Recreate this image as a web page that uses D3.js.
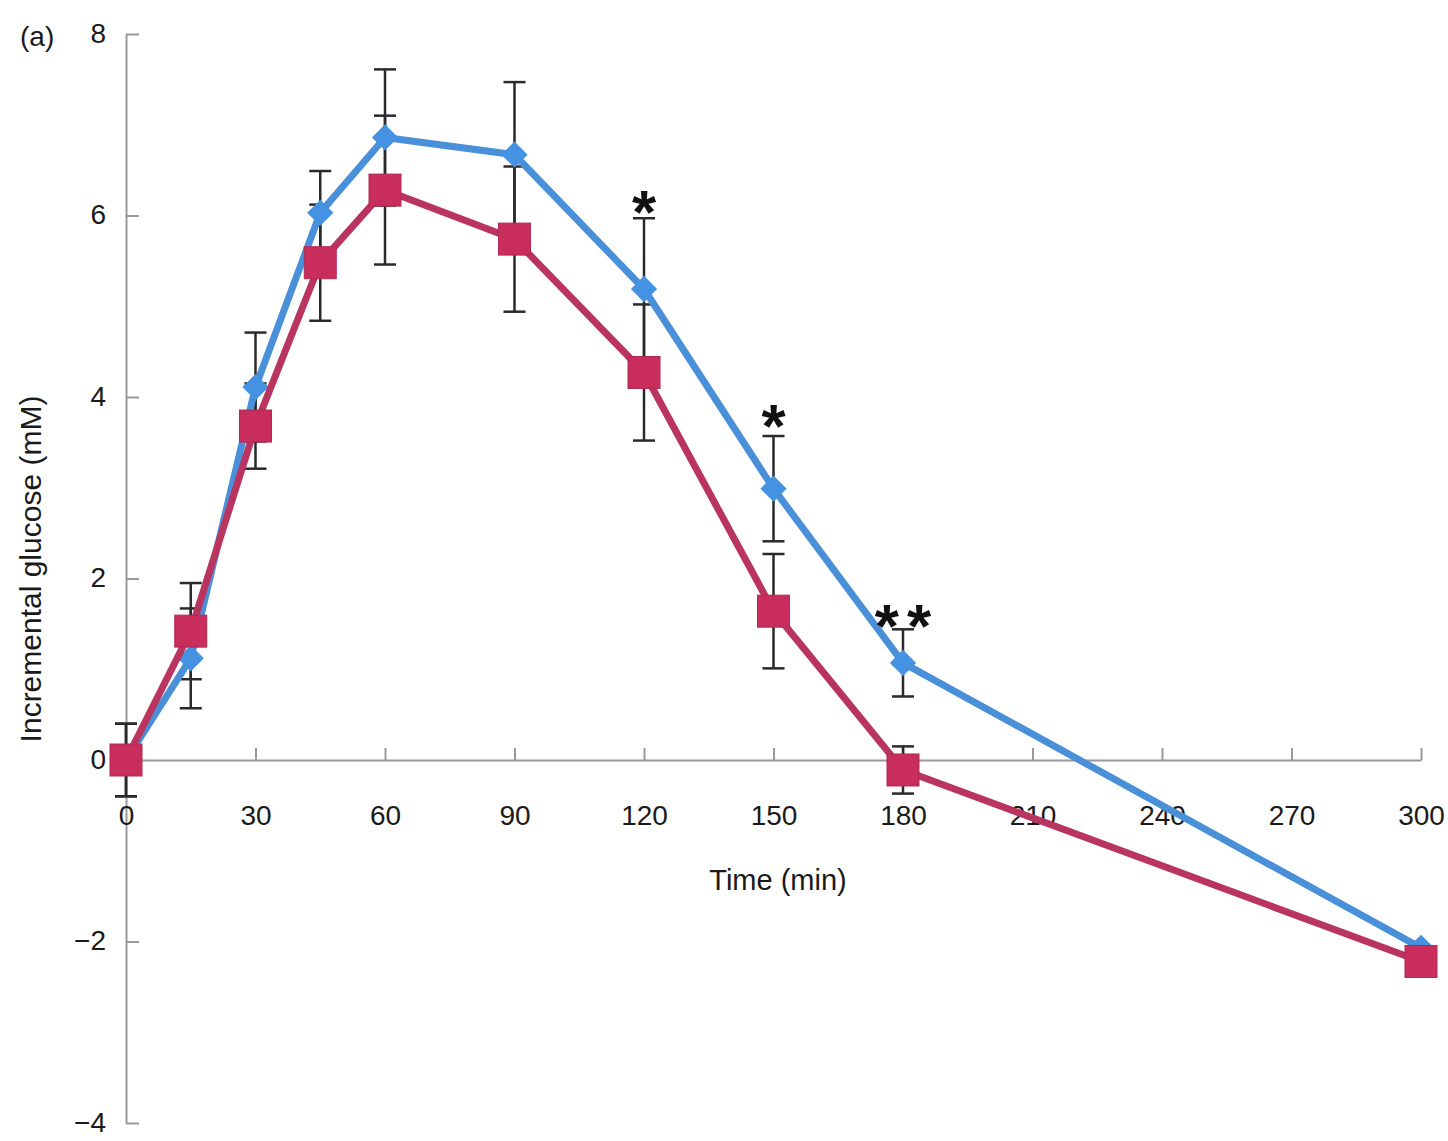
<!DOCTYPE html>
<html>
<head>
<meta charset="utf-8">
<script src="https://cdn.jsdelivr.net/npm/d3@7"></script>
<style>
  body { margin: 0; background: #fff; }
  text { font-family: "Liberation Sans", Arial, sans-serif; }
</style>
</head>
<body>
<div id="chart"></div>
<script>
// time points (min)
var times = [0, 15, 30, 45, 60, 90, 120, 150, 180, 300];
// blue series (diamonds)
var blueMean = [0, 1.12, 4.11, 6.03, 6.86, 6.67, 5.19, 2.99, 1.07, -2.07];
var blueSE   = [0.4, 0.55, 0.6, 0.46, 0.75, 0.8, 0.78, 0.58, 0.37, 0];
// red series (squares)
var redMean = [0, 1.42, 3.68, 5.48, 6.28, 5.74, 4.27, 1.64, -0.11, -2.22];
var redSE   = [0.4, 0.53, 0.47, 0.64, 0.82, 0.8, 0.75, 0.63, 0.26, 0];
// axis ticks
var xTicks = [0, 30, 60, 90, 120, 150, 180, 210, 240, 270, 300];
var yTicks = [-4, -2, 0, 2, 4, 6, 8];
// significance marks
var sigTimes = [120, 150, 180];
var sigLevel = [6.2, 3.85, 1.64];
var sigText = ["*", "*", "**"];

var W = 1448, H = 1141;
var margin = {top: 34, right: 27, bottom: 18, left: 126};

var svg = d3.select("#chart").append("svg")
    .attr("width", W)
    .attr("height", H);

var x = d3.scaleLinear().domain([0, 300]).range([margin.left, W - margin.right]);
var y = d3.scaleLinear().domain([-4, 8]).range([H - margin.bottom, margin.top]);

var axisColor = "#999";

// y axis
var yAxis = svg.append("g")
    .attr("transform", "translate(" + x(0) + ",0)")
    .call(d3.axisLeft(y).tickValues(yTicks).tickSizeInner(-13).tickSizeOuter(0).tickPadding(20));
// x axis on the zero line
var xAxis = svg.append("g")
    .attr("transform", "translate(0," + y(0) + ")")
    .call(d3.axisBottom(x).tickValues(xTicks).tickSizeInner(-12).tickSizeOuter(0).tickPadding(45));

svg.selectAll(".domain, .tick line")
    .attr("stroke", axisColor)
    .attr("stroke-width", 2);
svg.selectAll(".tick text")
    .attr("fill", "#1a1a1a")
    .style("font-size", "28px")
    .style("font-family", "'Liberation Sans', Arial, sans-serif");
yAxis.selectAll(".tick text").attr("dy", "0.3em");

// axis titles
svg.append("text")
    .attr("x", 778).attr("y", 890)
    .attr("text-anchor", "middle")
    .attr("fill", "#1a1a1a")
    .style("font-size", "29px")
    .text("Time (min)");

svg.append("text")
    .attr("transform", "translate(41,569) rotate(-90)")
    .attr("text-anchor", "middle")
    .attr("fill", "#1a1a1a")
    .style("font-size", "30px")
    .text("Incremental glucose (mM)");

svg.append("text")
    .attr("x", 20).attr("y", 46)
    .attr("fill", "#1a1a1a")
    .style("font-size", "28px")
    .text("(a)");

function series(means, se) {
  return times.map(function(t, i) { return {t: t, v: means[i], se: se[i]}; });
}
var blue = series(blueMean, blueSE);
var red = series(redMean, redSE);

// error bars
function errorBars(data) {
  var g = svg.append("g")
      .attr("stroke", "#2a2a2a")
      .attr("stroke-width", 2.5)
      .selectAll("g")
      .data(data.filter(function(d) { return d.se > 0; }))
      .enter().append("g");
  g.append("line")
      .attr("x1", function(d) { return x(d.t); })
      .attr("x2", function(d) { return x(d.t); })
      .attr("y1", function(d) { return y(d.v - d.se); })
      .attr("y2", function(d) { return y(d.v + d.se); });
  [-1, 1].forEach(function(s) {
    g.append("line")
        .attr("x1", function(d) { return x(d.t) - 11; })
        .attr("x2", function(d) { return x(d.t) + 11; })
        .attr("y1", function(d) { return y(d.v + s * d.se); })
        .attr("y2", function(d) { return y(d.v + s * d.se); });
  });
}
errorBars(blue);
errorBars(red);

var line = d3.line()
    .x(function(d) { return x(d.t); })
    .y(function(d) { return y(d.v); });

// blue line + diamonds
svg.append("path")
    .datum(blue)
    .attr("fill", "none")
    .attr("stroke", "#4a90d9")
    .attr("stroke-width", 7)
    .attr("stroke-linejoin", "round")
    .attr("d", line);

svg.append("g").selectAll("path")
    .data(blue)
    .enter().append("path")
    .attr("transform", function(d) { return "translate(" + x(d.t) + "," + y(d.v) + ")"; })
    .attr("d", d3.symbol().type(d3.symbolDiamond2).size(440))
    .attr("fill", "#4592e2");

// red line + squares
svg.append("path")
    .datum(red)
    .attr("fill", "none")
    .attr("stroke", "#b9345f")
    .attr("stroke-width", 7)
    .attr("stroke-linejoin", "round")
    .attr("d", line);

svg.append("g").selectAll("rect")
    .data(red)
    .enter().append("rect")
    .attr("x", function(d) { return x(d.t) - 16; })
    .attr("y", function(d) { return y(d.v) - 16; })
    .attr("width", 32)
    .attr("height", 32)
    .attr("fill", "#c82d5c")
    .attr("stroke", "#b02a55")
    .attr("stroke-width", 1);

// significance asterisks
svg.append("g").selectAll("text")
    .data(sigTimes)
    .enter().append("text")
    .attr("x", function(d) { return x(d); })
    .attr("y", function(d, i) { return y(sigLevel[i]) + 36; })
    .attr("dx", 4)
    .attr("text-anchor", "middle")
    .attr("fill", "#111")
    .style("font-size", "62px")
    .style("font-weight", "bold")
    .style("letter-spacing", "8px")
    .text(function(d, i) { return sigText[i]; });
</script>
</body>
</html>
